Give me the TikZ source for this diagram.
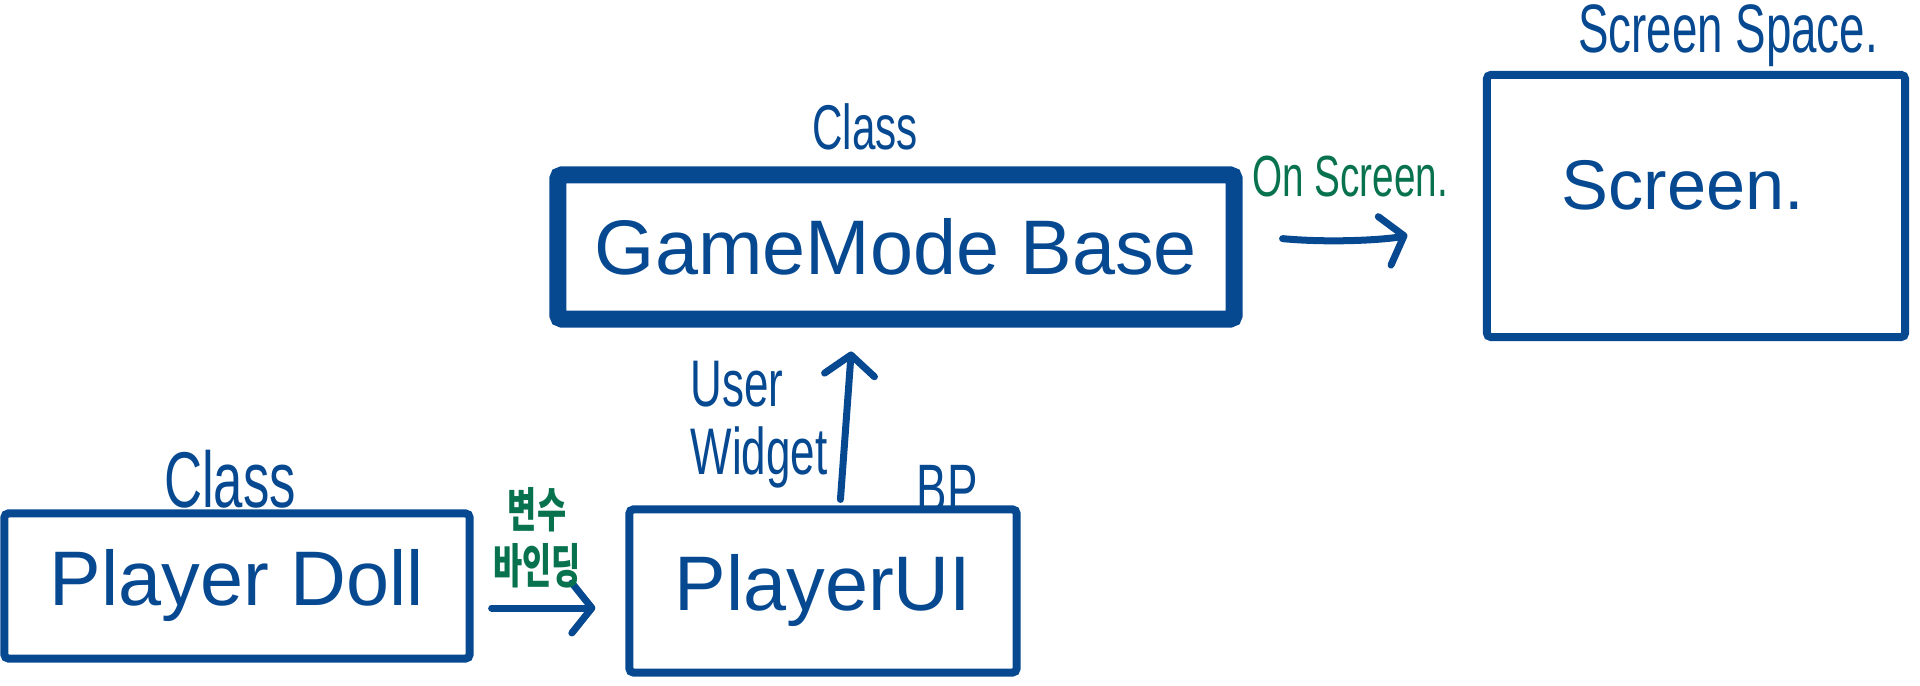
\documentclass[tikz,border=0pt]{standalone}
\usepackage{fontspec}
\usepackage{graphicx}
\setmainfont{Liberation Sans}
\newfontfamily\krfont{Noto Sans CJK KR}
\usetikzlibrary{arrows.meta}
\definecolor{inkblue}{RGB}{6,73,145}
\definecolor{inkgreen}{RGB}{8,114,79}
\newcommand{\stretchy}[1]{\scalebox{1}[1.5]{#1}}

\begin{document}
\begin{tikzpicture}[
    x=0.01cm, y=-0.01cm,
    box/.style={draw=inkblue, line width=0.08cm, rounded corners=0.04cm, inner sep=0pt},
    bigtxt/.style={text=inkblue, font=\fontsize{22}{26}\selectfont},
    note/.style={text=inkblue, font=\fontsize{13}{15}\selectfont, inner sep=0pt},
    greennote/.style={text=inkgreen, font=\fontsize{11}{13}\selectfont, inner sep=0pt},
    conn/.style={draw=inkblue, line width=0.07cm, line cap=round,
        -{Straight Barb[length=0.2cm, width=0.5cm, round]}},
]
    \useasboundingbox (0,0) rectangle (1920,686);

    % Boxes
    \node[box, bigtxt, line width=0.17cm, minimum width=6.76cm, minimum height=1.44cm] (gm) at (896,247) {GameMode Base};
    \node[box, bigtxt, minimum width=4.65cm, minimum height=1.45cm] (doll) at (237,586) {Player Doll};
    \node[box, bigtxt, minimum width=3.87cm, minimum height=1.63cm] (ui) at (823,591) {PlayerUI};
    \node[box, minimum width=4.18cm, minimum height=2.62cm] (screen) at (1696,206) {};
    \node[bigtxt, font=\fontsize{20}{24}\selectfont] (screentxt) at (1683,185) {Screen.};

    % Labels above boxes
    \node[note, font=\fontsize{12}{14}\selectfont] (gmclass) at (865,127) {\stretchy{Class}};
    \node[note, font=\fontsize{15}{18}\selectfont] (dollclass) at (230,479) {\stretchy{Class}};
    \node[note] (uibp) at (947,489) {\stretchy{BP}};
    \node[note] (space) at (1728,36) {\stretchy{Screen Space.}};

    % Connectors
    \draw[conn, shorten <=0.18cm, shorten >=0.3cm] ([yshift=-0.22cm]doll.east) -- ([yshift=-0.22cm]doll.east -| ui.west);
    \draw[conn, shorten <=0.06cm, shorten >=0.24cm] ([xshift=0.17cm]ui.north) -- ([xshift=-0.43cm]gm.south);
    \draw[conn, shorten <=0.4cm, shorten >=0.78cm] ([yshift=0.12cm]gm.east) to[bend right=10] ([yshift=-0.09cm]screen.west);

    % Connector labels
    \node[greennote, font=\krfont\bfseries\fontsize{9}{9.5}\selectfont] (bind) at (537,543)
        {\stretchy{\begin{tabular}{@{}c@{}}변수\\바인딩\end{tabular}}};
    \node[note, font=\fontsize{12.5}{13}\selectfont, anchor=west] (widget) at (690,427)
        {\stretchy{\begin{tabular}{@{}l@{}}User\\Widget\end{tabular}}};
    \node[greennote] (onscreen) at (1350,177) {\stretchy{On Screen.}};

\end{tikzpicture}
\end{document}
